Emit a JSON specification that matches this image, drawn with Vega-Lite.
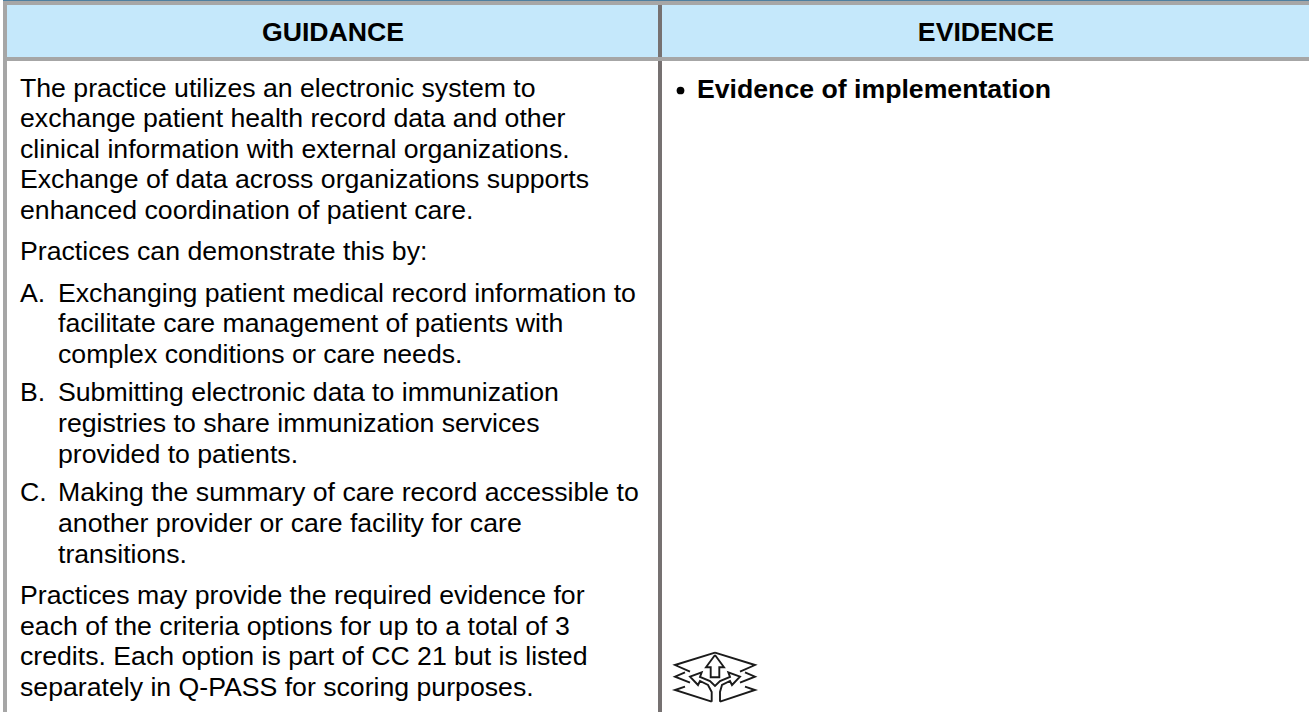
{"$schema":"https://vega.github.io/schema/vega-lite/v6.json","width":1309,"height":712,"padding":0,"autosize":{"type":"fit","contains":"padding"},"background":"#ffffff","view":{"stroke":null},
"datasets":{
"cells":[
{"part":"header left","x":7,"x2":658,"y":5,"y2":57,"color":"header"},
{"part":"header right","x":662,"x2":1309,"y":5,"y2":57,"color":"header"},
{"part":"divider","x":658,"x2":662,"y":5,"y2":712,"color":"divider"},
{"part":"top edge","x":3,"x2":1309,"y":0,"y2":1,"color":"edge"},
{"part":"top band","x":3,"x2":1309,"y":1,"y2":5,"color":"band"},
{"part":"mid band","x":3,"x2":1309,"y":57,"y2":61,"color":"band"},
{"part":"left band","x":3,"x2":7,"y":1,"y2":712,"color":"band"}],
"heads":[{"t":"GUIDANCE","x":333,"y":41},{"t":"EVIDENCE","x":986,"y":41}],
"bold":[{"t":"Evidence of implementation","x":697,"y":98}],
"bullets":[{"x":680.5,"y":90.5}],
"lines":[
{"t":"The practice utilizes an electronic system to","x":20,"y":97},
{"t":"exchange patient health record data and other","x":20,"y":127},
{"t":"clinical information with external organizations.","x":20,"y":158},
{"t":"Exchange of data across organizations supports","x":20,"y":188},
{"t":"enhanced coordination of patient care.","x":20,"y":219},
{"t":"Practices can demonstrate this by:","x":20,"y":260},
{"t":"A.","x":20,"y":302},
{"t":"Exchanging patient medical record information to","x":58,"y":302},
{"t":"facilitate care management of patients with","x":58,"y":332},
{"t":"complex conditions or care needs.","x":58,"y":363},
{"t":"B.","x":20,"y":401},
{"t":"Submitting electronic data to immunization","x":58,"y":401},
{"t":"registries to share immunization services","x":58,"y":432},
{"t":"provided to patients.","x":58,"y":463},
{"t":"C.","x":20,"y":501},
{"t":"Making the summary of care record accessible to","x":58,"y":501},
{"t":"another provider or care facility for care","x":58,"y":532},
{"t":"transitions.","x":58,"y":563},
{"t":"Practices may provide the required evidence for","x":20,"y":604},
{"t":"each of the criteria options for up to a total of 3","x":20,"y":635},
{"t":"credits. Each option is part of CC 21 but is listed","x":20,"y":665},
{"t":"separately in Q-PASS for scoring purposes.","x":20,"y":696}],
"icon":[
{"p":"a","o":1,"x":715,"y":652.7},{"p":"a","o":2,"x":675,"y":665},{"p":"a","o":3,"x":690,"y":671.7},
{"p":"b","o":1,"x":715,"y":652.7},{"p":"b","o":2,"x":755,"y":665},{"p":"b","o":3,"x":740,"y":671.7},
{"p":"c","o":1,"x":685,"y":672.3},{"p":"c","o":2,"x":675,"y":676.7},{"p":"c","o":3,"x":690,"y":682.7},
{"p":"d","o":1,"x":745,"y":672.3},{"p":"d","o":2,"x":755,"y":676.7},{"p":"d","o":3,"x":740,"y":682.7},
{"p":"e","o":1,"x":685,"y":686.7},{"p":"e","o":2,"x":675,"y":690},{"p":"e","o":3,"x":711.7,"y":701.7},
{"p":"f","o":1,"x":745,"y":686.7},{"p":"f","o":2,"x":755,"y":690},{"p":"f","o":3,"x":720,"y":701.7},
{"p":"g","o":1,"x":715,"y":655},{"p":"g","o":2,"x":706,"y":667.3},{"p":"g","o":3,"x":710.7,"y":667.3},{"p":"g","o":4,"x":710.7,"y":677.3},{"p":"g","o":5,"x":719.3,"y":677.3},{"p":"g","o":6,"x":719.3,"y":667.3},{"p":"g","o":7,"x":724,"y":667.3},{"p":"g","o":8,"x":715,"y":655},
{"p":"h","o":1,"x":711.7,"y":701.7},{"p":"h","o":2,"x":711.7,"y":692},{"p":"h","o":3,"x":708,"y":685},{"p":"h","o":4,"x":700,"y":681},{"p":"h","o":5,"x":698,"y":685},{"p":"h","o":6,"x":690,"y":676.7},{"p":"h","o":7,"x":701.7,"y":672.3},{"p":"h","o":8,"x":700,"y":677},{"p":"h","o":9,"x":710,"y":681},{"p":"h","o":10,"x":715,"y":686},{"p":"h","o":11,"x":720,"y":681},{"p":"h","o":12,"x":730,"y":677},{"p":"h","o":13,"x":728.3,"y":672.3},{"p":"h","o":14,"x":740,"y":676.7},{"p":"h","o":15,"x":732,"y":685},{"p":"h","o":16,"x":730,"y":681},{"p":"h","o":17,"x":722,"y":685},{"p":"h","o":18,"x":720,"y":692},{"p":"h","o":19,"x":720,"y":701.7}]
},
"encoding":{
"x":{"field":"x","type":"quantitative","scale":{"domain":[0,1309],"nice":false,"zero":false},"axis":null},
"y":{"field":"y","type":"quantitative","scale":{"domain":[712,0],"nice":false,"zero":false},"axis":null}},
"layer":[
{"data":{"name":"cells"},"mark":{"type":"rect","strokeWidth":0},"encoding":{"x2":{"field":"x2"},"y2":{"field":"y2"},"color":{"field":"color","type":"nominal","legend":null,"scale":{"domain":["header","divider","edge","band"],"range":["#C5E8FB","#767171","#4F7F9F","#A6A6A6"]}},"order":{"field":"x2"}}},
{"data":{"name":"heads"},"mark":{"type":"text","font":"Liberation Sans","fontSize":26.67,"fontWeight":"bold","align":"center","baseline":"alphabetic","color":"#000000"},"encoding":{"text":{"field":"t"}}},
{"data":{"name":"bold"},"mark":{"type":"text","font":"Liberation Sans","fontSize":26.67,"fontWeight":"bold","align":"left","baseline":"alphabetic","color":"#000000"},"encoding":{"text":{"field":"t"}}},
{"data":{"name":"bullets"},"mark":{"type":"point","filled":true,"shape":"circle","size":60,"color":"#000000","opacity":1}},
{"data":{"name":"lines"},"mark":{"type":"text","font":"Liberation Sans","fontSize":26.67,"align":"left","baseline":"alphabetic","color":"#000000"},"encoding":{"text":{"field":"t"}}},
{"data":{"name":"icon"},"mark":{"type":"line","color":"#1a1a1a","strokeWidth":1.9,"strokeJoin":"miter"},"encoding":{"detail":{"field":"p"},"order":{"field":"o"}}}
]}
